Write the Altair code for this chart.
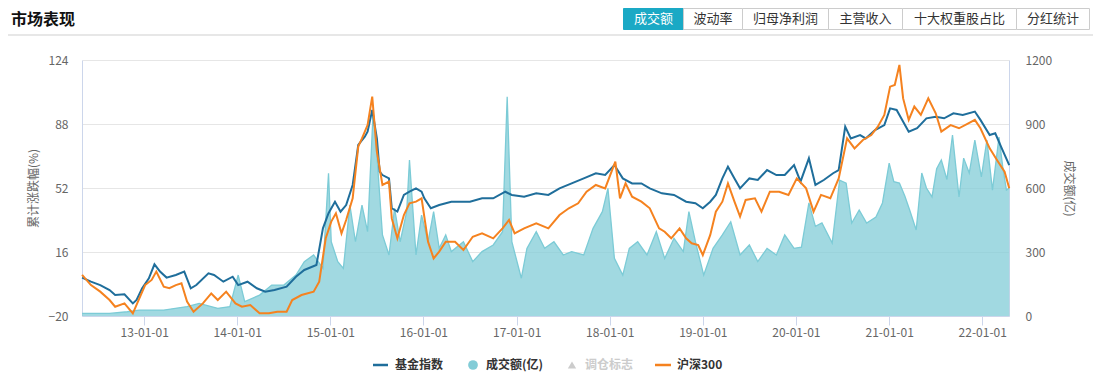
import altair as alt
import pandas as pd
import numpy as np

FONT = "Noto Sans CJK SC"

# ---------------- data (time in decimal years) ----------------
fund_t = [2012.335, 2012.43, 2012.53, 2012.63, 2012.69, 2012.79, 2012.88, 2012.92, 2012.98, 2013.05,
          2013.11, 2013.17, 2013.24, 2013.34, 2013.43, 2013.50, 2013.56, 2013.69, 2013.75, 2013.85,
          2013.95, 2014.01, 2014.11, 2014.21, 2014.30, 2014.40, 2014.53, 2014.63, 2014.72, 2014.85,
          2014.92, 2014.98, 2015.05, 2015.11, 2015.17, 2015.24, 2015.30, 2015.37, 2015.40, 2015.45,
          2015.50, 2015.53, 2015.56, 2015.63, 2015.66, 2015.72, 2015.79, 2015.85, 2015.92, 2015.98,
          2016.01, 2016.08, 2016.17, 2016.30, 2016.50, 2016.63, 2016.75, 2016.88, 2016.95, 2017.08,
          2017.21, 2017.34, 2017.46, 2017.59, 2017.72, 2017.85, 2017.95, 2018.05, 2018.14, 2018.24,
          2018.34, 2018.43, 2018.56, 2018.69, 2018.82, 2018.92, 2019.00, 2019.08, 2019.14, 2019.21,
          2019.27, 2019.34, 2019.40, 2019.50, 2019.59, 2019.69, 2019.79, 2019.88, 2019.98, 2020.05,
          2020.14, 2020.21, 2020.30, 2020.40, 2020.46, 2020.53, 2020.59, 2020.69, 2020.75, 2020.85,
          2020.95, 2021.01, 2021.08, 2021.14, 2021.21, 2021.30, 2021.40, 2021.50, 2021.59, 2021.69,
          2021.79, 2021.92, 2021.98, 2022.08, 2022.14, 2022.21, 2022.29]
fund_v = [1.6, -0.7, -2.6, -5.4, -8.2, -7.8, -12.9, -11.0, -4.4, 1.2,
          9.1, 5.0, 1.6, 3.1, 5.0, -4.4, -2.6, 4.0, 3.1, -0.7,
          2.1, -2.6, -0.7, -4.4, -6.3, -5.4, -3.5, 2.1, 5.9, 8.7,
          29.3, 37.8, 44.3, 38.7, 42.4, 53.7, 76.2, 80.9, 83.7, 95.9,
          79.9, 61.2, 59.3, 57.4, 40.6, 38.7, 48.1, 49.9, 51.8, 49.9,
          46.2, 40.6, 42.4, 44.3, 44.3, 46.2, 46.2, 49.9, 48.1, 47.1,
          49.0, 48.1, 51.8, 54.6, 57.4, 60.3, 59.3, 64.9, 57.4, 54.6,
          54.6, 51.8, 49.0, 48.1, 44.3, 43.4, 40.6, 44.3, 48.1, 57.4,
          64.0, 57.4, 51.8, 57.4, 56.5, 62.1, 59.3, 59.3, 64.9, 55.6,
          68.7, 53.7, 56.5, 60.3, 62.1, 86.5, 79.9, 81.8, 79.9, 84.6,
          87.4, 96.8, 95.9, 90.3, 83.7, 85.6, 91.2, 92.1, 91.2, 94.0,
          93.1, 95.0, 90.3, 81.8, 82.8, 74.3, 64.9]

hs_t = [2012.335, 2012.43, 2012.53, 2012.63, 2012.69, 2012.79, 2012.88, 2012.95, 2013.01, 2013.08,
        2013.13, 2013.21, 2013.27, 2013.34, 2013.40, 2013.46, 2013.53, 2013.63, 2013.72, 2013.79,
        2013.88, 2013.98, 2014.05, 2014.14, 2014.24, 2014.34, 2014.43, 2014.53, 2014.59, 2014.69,
        2014.82, 2014.88, 2014.95, 2015.01, 2015.06, 2015.12, 2015.17, 2015.24, 2015.30, 2015.34,
        2015.40, 2015.45, 2015.50, 2015.56, 2015.63, 2015.66, 2015.72, 2015.79, 2015.85, 2015.92,
        2015.98, 2016.05, 2016.11, 2016.17, 2016.24, 2016.34, 2016.43, 2016.53, 2016.63, 2016.75,
        2016.85, 2016.92, 2016.98, 2017.08, 2017.21, 2017.34, 2017.46, 2017.56, 2017.66, 2017.75,
        2017.85, 2017.95, 2018.06, 2018.11, 2018.17, 2018.24, 2018.34, 2018.43, 2018.53, 2018.59,
        2018.66, 2018.75, 2018.82, 2018.88, 2018.95, 2019.00, 2019.08, 2019.14, 2019.21, 2019.27,
        2019.34, 2019.40, 2019.46, 2019.56, 2019.63, 2019.72, 2019.82, 2019.92, 2020.01, 2020.11,
        2020.19, 2020.27, 2020.37, 2020.46, 2020.55, 2020.63, 2020.72, 2020.81, 2020.88, 2020.95,
        2021.01, 2021.06, 2021.11, 2021.15, 2021.21, 2021.27, 2021.34, 2021.42, 2021.50, 2021.56,
        2021.66, 2021.75, 2021.85, 2021.92, 2021.98, 2022.08, 2022.17, 2022.24, 2022.29]
hs_v = [3.1, -2.6, -6.3, -11.0, -14.8, -12.9, -18.5, -10.1, -2.6, 0.3,
        5.0, -3.5, -4.4, -2.6, -1.6, -11.9, -17.6, -12.9, -7.3, -11.0,
        -6.3, -12.9, -14.8, -13.8, -18.5, -18.5, -17.6, -17.6, -11.0, -8.2,
        -6.3, -0.7, 23.7, 33.1, 37.8, 26.5, 34.0, 46.2, 75.3, 79.9,
        87.4, 103.4, 72.4, 53.7, 55.6, 34.9, 23.7, 36.8, 43.4, 44.3,
        46.2, 21.8, 12.4, 16.2, 21.8, 21.8, 17.1, 24.6, 26.5, 23.7,
        29.3, 34.0, 26.5, 29.3, 32.1, 29.3, 36.8, 40.6, 43.4, 49.9,
        53.7, 51.8, 66.8, 46.2, 54.6, 47.1, 44.3, 40.6, 29.3, 27.4,
        23.7, 29.3, 23.7, 20.9, 19.9, 14.3, 25.6, 38.7, 44.3, 54.6,
        44.3, 35.9, 45.3, 46.2, 38.7, 49.9, 49.9, 48.1, 57.4, 51.8,
        38.7, 48.1, 46.2, 57.4, 79.9, 74.3, 79.0, 81.8, 86.5, 93.1,
        109.0, 109.9, 121.2, 102.4, 90.3, 97.8, 93.1, 102.4, 94.0, 83.7,
        87.4, 85.6, 88.4, 90.3, 85.6, 74.3, 66.8, 61.2, 51.8]

vol_t = [2012.335, 2012.63, 2012.82, 2012.95, 2013.21, 2013.46, 2013.59, 2013.79, 2013.92, 2014.01,
         2014.08, 2014.24, 2014.37, 2014.50, 2014.63, 2014.72, 2014.82, 2014.92, 2014.98, 2015.01,
         2015.08, 2015.14, 2015.21, 2015.27, 2015.34, 2015.40, 2015.46, 2015.50, 2015.56, 2015.63,
         2015.69, 2015.75, 2015.82, 2015.85, 2015.92, 2015.98, 2016.05, 2016.11, 2016.17, 2016.24,
         2016.30, 2016.43, 2016.53, 2016.63, 2016.75, 2016.85, 2016.90, 2016.95, 2017.05, 2017.11,
         2017.21, 2017.30, 2017.40, 2017.50, 2017.59, 2017.72, 2017.82, 2017.92, 2017.98, 2018.05,
         2018.14, 2018.21, 2018.30, 2018.40, 2018.50, 2018.59, 2018.69, 2018.79, 2018.85, 2018.92,
         2019.01, 2019.11, 2019.21, 2019.30, 2019.40, 2019.50, 2019.59, 2019.69, 2019.79, 2019.88,
         2019.98, 2020.06, 2020.14, 2020.21, 2020.28, 2020.39, 2020.47, 2020.54, 2020.60, 2020.68,
         2020.76, 2020.86, 2020.93, 2021.00, 2021.05, 2021.11, 2021.17, 2021.22, 2021.29, 2021.35,
         2021.40, 2021.46, 2021.51, 2021.56, 2021.62, 2021.68, 2021.75, 2021.80, 2021.86, 2021.92,
         2021.99, 2022.05, 2022.11, 2022.18, 2022.22, 2022.26, 2022.29]
vol_v = [12, 12, 20, 28, 28, 44, 59, 36, 44, 192,
         67, 98, 145, 145, 192, 255, 286, 223, 669, 348,
         255, 223, 520, 348, 520, 395, 958, 755, 380, 286,
         505, 348, 489, 731, 286, 473, 348, 489, 317, 380,
         302, 348, 255, 302, 333, 395, 1028, 348, 177, 317,
         395, 317, 348, 286, 302, 286, 411, 489, 598, 270,
         192, 317, 348, 286, 395, 270, 364, 302, 489, 348,
         192, 317, 380, 442, 286, 333, 255, 317, 286, 380,
         317, 323, 530, 420, 436, 342, 637, 623, 436, 497,
         436, 464, 530, 717, 630, 623, 560, 497, 403, 670,
         600, 558, 690, 731, 640, 848, 558, 740, 670, 825,
         652, 825, 590, 839, 700, 590, 600]

series_names = ["基金指数", "沪深300"]
series_colors = ["#1f6e9b", "#f5821f"]
left_ticks = [-20, 16, 52, 88, 124]
right_ticks = [0, 300, 600, 900, 1200]
buttons = ["成交额", "波动率", "归母净利润", "主营收入", "十大权重股占比", "分红统计"]


def to_dates(ts):
    out = []
    for t in ts:
        y = int(np.floor(t))
        out.append(pd.Timestamp(year=y, month=1, day=1) + pd.Timedelta(days=(t - y) * 365.25))
    return out


line_df = pd.concat([
    pd.DataFrame({"date": to_dates(fund_t), "value": fund_v, "series": series_names[0]}),
    pd.DataFrame({"date": to_dates(hs_t), "value": hs_v, "series": series_names[1]}),
], ignore_index=True)
vol_df = pd.DataFrame({"date": to_dates(vol_t), "vol": vol_v})

# ---------------- scales / axes ----------------
xscale = alt.Scale(domain=[alt.DateTime(year=2012, month=5, date=2),
                           alt.DateTime(year=2022, month=4, date=16)], nice=False)
xaxis = alt.Axis(format="%y-%m-%d",
                 values=[alt.DateTime(year=y, month=1, date=1) for y in range(2013, 2023)],
                 title=None, grid=False, labelColor="#666", labelFontSize=12,
                 tickColor="#ccd6eb", tickSize=9, domainColor="#ccd6eb", labelPadding=2)

area = alt.Chart(vol_df).mark_area(
    color="#82ccd7", opacity=0.75,
    line={"color": "#7ccbd6", "strokeWidth": 1.3, "opacity": 1},
).encode(
    x=alt.X("date:T", scale=xscale, axis=xaxis),
    y=alt.Y("vol:Q", scale=alt.Scale(domain=[0, 1200], nice=False),
            axis=alt.Axis(orient="right", values=right_ticks, format="d", title="成交额(亿)",
                          grid=False, ticks=False, domainColor="#ccd6eb",
                          labelColor="#666", labelFontSize=12, labelPadding=16,
                          titlePadding=10, titleColor="#666", titleFontSize=12,
                          titleFontWeight="normal")),
)

lines = alt.Chart(line_df).mark_line(strokeWidth=2).encode(
    x=alt.X("date:T", scale=xscale, axis=xaxis),
    y=alt.Y("value:Q", scale=alt.Scale(domain=[-20, 124], nice=False, zero=False),
            axis=alt.Axis(orient="left", values=left_ticks, format="d", title="累计涨跌幅(%)",
                          grid=True, gridColor="#e6e6e6", ticks=False,
                          domainColor="#ccd6eb", labelColor="#666", labelFontSize=12,
                          labelPadding=14, titlePadding=8, titleColor="#666",
                          titleFontSize=12, titleFontWeight="normal")),
    color=alt.Color("series:N", scale=alt.Scale(domain=series_names, range=series_colors),
                    legend=None),
)

# ---------------- decorations (page title, buttons, legend) ----------------
one = pd.DataFrame({"k": [0]})
decos = []

decos.append(alt.Chart(one).mark_text(text="市场表现", font=FONT, fontSize=16, fontWeight="bold",
                                      color="#111", align="left", baseline="middle")
             .encode(x=alt.value(-71), y=alt.value(-40)))
decos.append(alt.Chart(one).mark_rule(color="#cfcfcf", strokeWidth=1)
             .encode(x=alt.value(-74), x2=alt.value(1011), y=alt.value(-25)))

btn_edges = [541, 601, 660, 746, 820, 934, 1007]
for i, lab in enumerate(buttons):
    active = i == 0
    decos.append(alt.Chart(one).mark_rect(fill="#1aa9c5" if active else "#ffffff",
                                          stroke="#1aa9c5" if active else "#cccccc",
                                          strokeWidth=1)
                 .encode(x=alt.value(btn_edges[i] + 0.5), x2=alt.value(btn_edges[i + 1] + 0.5),
                         y=alt.value(-51.5), y2=alt.value(-30.5)))
    decos.append(alt.Chart(one).mark_text(text=lab, font=FONT, fontSize=13,
                                          color="#ffffff" if active else "#333333",
                                          align="center", baseline="middle")
                 .encode(x=alt.value((btn_edges[i] + btn_edges[i + 1]) / 2 + 0.5),
                         y=alt.value(-41)))

LY = 305
decos.append(alt.Chart(one).mark_rule(color=series_colors[0], strokeWidth=2.5)
             .encode(x=alt.value(291), x2=alt.value(306), y=alt.value(LY)))
decos.append(alt.Chart(one).mark_text(text="基金指数", font=FONT, fontSize=12, fontWeight="bold",
                                      color="#333", align="left", baseline="middle")
             .encode(x=alt.value(313), y=alt.value(LY)))
decos.append(alt.Chart(one).mark_circle(color="#82ccd7", opacity=1, size=95)
             .encode(x=alt.value(391), y=alt.value(LY)))
decos.append(alt.Chart(one).mark_text(text="成交额(亿)", font=FONT, fontSize=12, fontWeight="bold",
                                      color="#333", align="left", baseline="middle")
             .encode(x=alt.value(404), y=alt.value(LY)))
decos.append(alt.Chart(one).mark_point(shape="triangle-up", filled=True, color="#cccccc",
                                       opacity=1, size=70)
             .encode(x=alt.value(490), y=alt.value(LY)))
decos.append(alt.Chart(one).mark_text(text="调仓标志", font=FONT, fontSize=12, fontWeight="bold",
                                      color="#cccccc", align="left", baseline="middle")
             .encode(x=alt.value(503), y=alt.value(LY)))
decos.append(alt.Chart(one).mark_rule(color=series_colors[1], strokeWidth=2.5)
             .encode(x=alt.value(573), x2=alt.value(589), y=alt.value(LY)))
decos.append(alt.Chart(one).mark_text(text="沪深300", font=FONT, fontSize=12, fontWeight="bold",
                                      color="#333", align="left", baseline="middle")
             .encode(x=alt.value(595), y=alt.value(LY)))

chart = alt.layer(area, lines, *decos).resolve_scale(y="independent").properties(
    width=927, height=256,
    padding={"left": 74, "top": 52, "right": 84, "bottom": 56},
    autosize=alt.AutoSizeParams(type="none"),
).configure_view(stroke=None).configure_axis(labelFont=FONT, titleFont=FONT)

chart.save("out.html", embed_options={"renderer": "svg", "actions": False})
